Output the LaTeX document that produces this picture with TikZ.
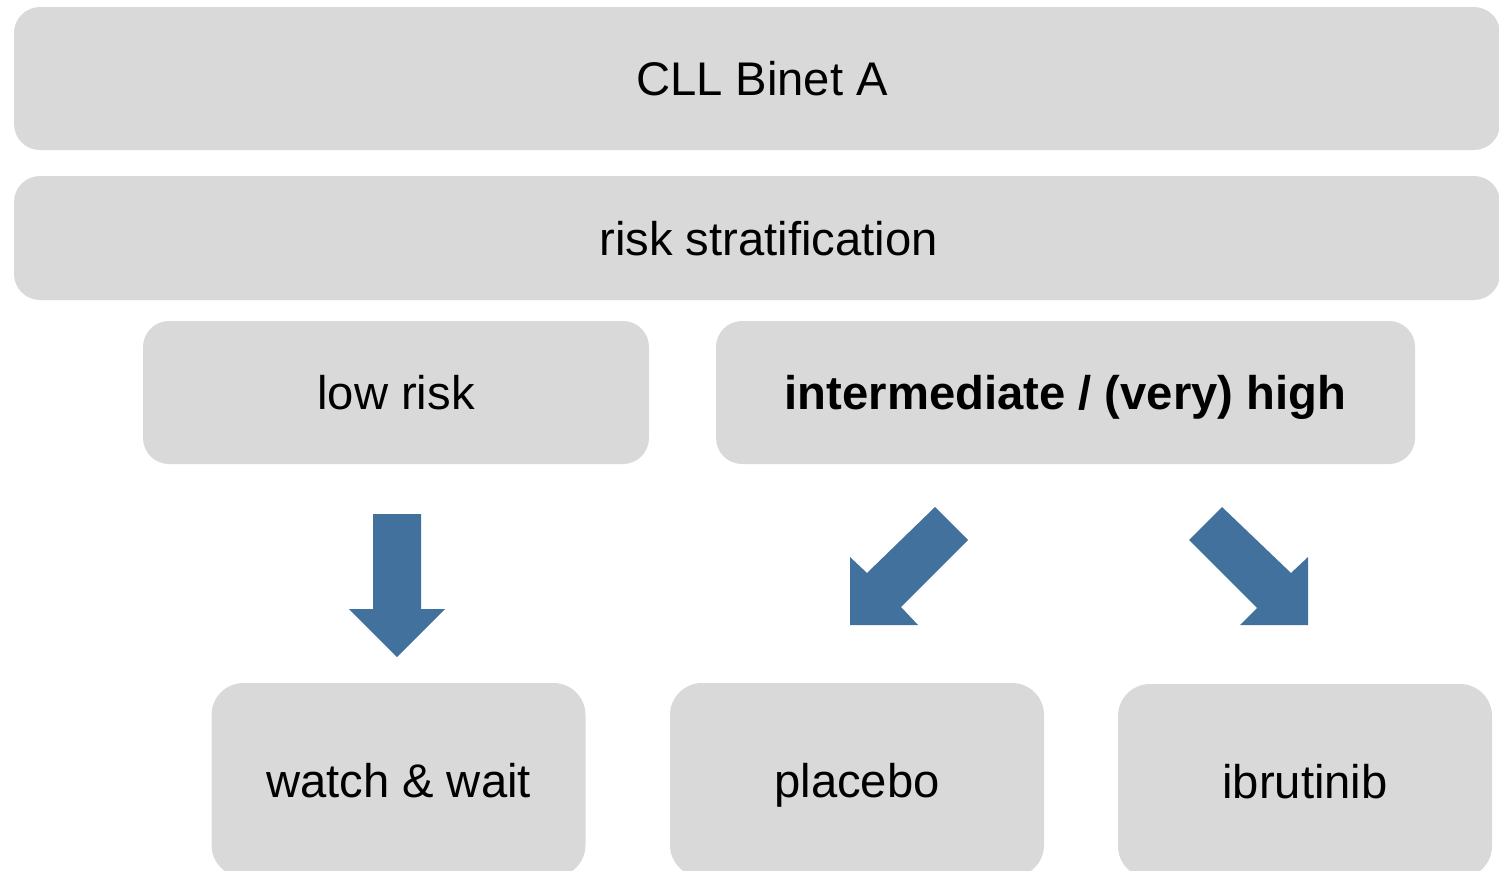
\documentclass[tikz,border=0pt]{standalone}
\usepackage{fontspec}
\setmainfont{Liberation Sans}
\definecolor{boxgray}{HTML}{D9D9D9}
\definecolor{arrowblue}{HTML}{41719C}
\begin{document}
\begin{tikzpicture}[x=1pt,y=-1pt,
  box/.style={rectangle, rounded corners=26pt, fill=boxgray, draw=none,
    inner sep=0pt, text height=34pt, text depth=0pt,
    font=\fontsize{47.2}{56}\selectfont, text=black},
  botbox/.style={box, rounded corners=32pt, minimum width=374pt, minimum height=194pt},
  blockarrow/.style={fill=arrowblue, draw=none}]
\useasboundingbox (0,0) rectangle (1499,870);
\clip (0,0) rectangle (1499,870);
\node[box, minimum width=1486pt, minimum height=143pt] (binet) at (757,78.5) {\hspace*{10pt}CLL Binet A};
\node[box, minimum width=1486pt, minimum height=124pt] (strat) at (757,238) {\hspace*{23pt}risk stratification};
\node[box, minimum width=506pt, minimum height=143pt] (low) at (396,392.5) {low risk};
\node[box, minimum width=699pt, minimum height=143pt] (high) at (1065.5,392.5) {\bfseries intermediate / (very) high};
\node[botbox] (watch) at (398.5,780) {watch \& wait};
\node[botbox] (placebo) at (857,780) {placebo};
\node[botbox] (ibru) at (1305,781) {ibrutinib};
% block arrows
\fill[blockarrow] (373,514) -- (421,514) -- (421,609) -- (445,609) -- (397,657) -- (349,609) -- (373,609) -- cycle;
\fill[blockarrow] (850,557) -- (867,573) -- (935,507) -- (968,540) -- (901,607) -- (918,625) -- (850,625) -- cycle;
\fill[blockarrow] (1189,540) -- (1222,507) -- (1291,573) -- (1308,557) -- (1308,625) -- (1240,625) -- (1257,608) -- cycle;
\end{tikzpicture}
\end{document}
